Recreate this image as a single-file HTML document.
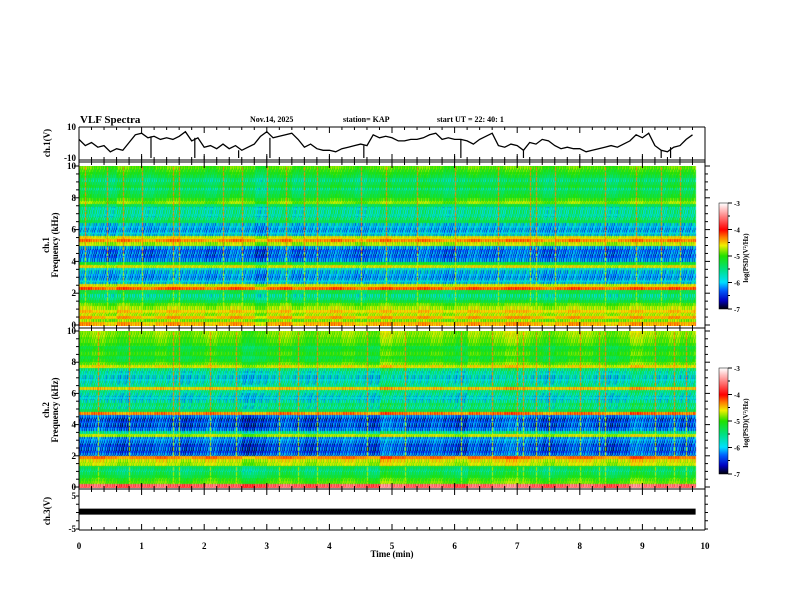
<!DOCTYPE html>
<html><head><meta charset="utf-8"><style>
body{margin:0;background:#fff;}
#wrap{position:relative;width:792px;height:612px;overflow:hidden;background:#fff;}
canvas{position:absolute;}
svg{position:absolute;left:0;top:0;}
text{font-family:"Liberation Serif",serif;font-weight:bold;fill:#000;}
</style></head><body>
<div id="wrap">
<canvas id="spec1" width="626" height="160" style="left:79px;top:166px"></canvas>
<canvas id="spec2" width="626" height="157" style="left:79px;top:331px"></canvas>
<canvas id="cb1" width="9" height="106" style="left:719px;top:203px"></canvas>
<canvas id="cb2" width="9" height="106" style="left:719px;top:368px"></canvas>
<svg id="ov" width="792" height="612"></svg>
</div>
<script>
// ---- data ----
const ch1Rows = [-4.4,-4.8,-4.4,-4.7,-4.5,-4.7,-4.9,-5.2,-5.4,-5.5,-5.3,-4.2,-4.6,-5.8,-6.0,-6.1,-5.9,-5.8,-4.6,-5.2,-6.1,-6.3,-6.2,-6.3,-6.0,-4.7,-4.3,-4.6,-5.8,-6.0,-6.0,-5.8,-5.3,-5.4,-5.6,-5.5,-5.6,-5.3,-4.8,-5.0,-5.2,-5.3,-5.4,-5.2,-5.3,-5.4,-5.2,-5.1,-5.0,-4.9];
const ch2Rows = [-3.6,-4.9,-5.0,-5.2,-5.3,-5.4,-5.3,-4.7,-4.6,-4.3,-6.2,-6.4,-6.3,-6.4,-6.2,-6.1,-4.7,-5.5,-6.2,-6.4,-6.3,-6.4,-6.2,-4.3,-5.3,-5.5,-5.4,-5.6,-5.8,-5.6,-5.5,-4.5,-5.5,-5.6,-5.8,-5.7,-5.6,-5.4,-4.6,-4.9,-5.1,-5.2,-5.0,-5.1,-5.2,-5.0,-4.9,-4.9,-4.8,-4.8];
const ch1ColMod = [0.1,0,-0.1,0.1,0,-0.1,0,0.1,0,0,-0.1,0,0.1,0,-0.2,0,0.1,-0.1,0,0,0.1,0,-0.1,0,0.1,0,0,0.1,0,-0.1,0,0.1,0,0,0.1,0.1,0,-0.1,0,0.1,0,0,-0.1,0,0.1,0,0,0.1,0,0.1];
const ch2ColMod = [0,0.1,0,-0.1,0,0,0.1,0,-0.1,0,0.1,0,0,-0.2,-0.1,0,0.1,0,-0.1,0,0,0.1,0,-0.1,0.2,0.1,0,0,0.1,0,-0.1,0.1,0,0.1,0.2,0.1,0,-0.1,0,0.1,0.1,0,-0.1,0,0.2,0.1,0,0.1,0,0.1];
const stripePattern = [0.35,-0.45,0.1,-0.55,0.25,0.0,-0.35];
const ch1Spikes = [0.1,0.45,0.7,1.0,1.5,1.6,2.3,2.6,3.0,3.3,3.6,3.8,4.5,4.9,5.4,6.0,6.7,7.2,7.3,7.6,8.4,8.9,9.3,9.6];
const ch2Spikes = [0.3,0.8,1.5,1.6,2.1,2.5,3.2,3.5,3.8,4.6,5.2,6.1,6.6,7.0,7.1,7.3,7.5,8.0,8.3,8.4,9.2,9.5,9.7];
const ch1Wave = [2,-2,0,-3,-2,-6,-4,-5,0,5,6,3,4,2,3,2,4,7,1,3,-3,-2,-4,-1,-4,-2,-5,-3,-1,4,7,3,4,5,6,2,-3,-1,-4,-5,-5,-6,-4,-3,-2,-1,-2,5,3,4,3,1,1,2,2,3,5,6,2,3,2,2,1,-1,2,4,6,-2,-3,-1,-2,-5,0,-1,2,1,-2,-4,-3,-4,-4,-6,-5,-4,-3,-2,-3,-1,1,5,3,6,-2,-5,-6,-3,-2,2,5];
const ch1Drops = [1.15,1.85,2.55,3.05,4.55,6.1,7.1,9.3,9.45];
const ch3Value = [-0.5];
const xTickLabels = ["0","1","2","3","4","5","6","7","8","9","10"];
const cbTickLabels = ["-3","-4","-5","-6","-7"];
const tEnd = 9.85;

// ---- axes ----
const X0=79, X1=705;
const xS = t => X0 + t/10*(X1-X0);
const stops=[[-7,[0,0,16]],[-6.7,[0,0,192]],[-6.3,[0,96,255]],[-6.0,[0,224,255]],[-5.5,[0,224,128]],[-5.0,[32,224,0]],[-4.6,[240,240,0]],[-4.3,[255,128,0]],[-4.0,[255,0,0]],[-3.5,[255,128,128]],[-3.0,[255,255,255]]];
function cmap(v){
  if(v<=stops[0][0]) return stops[0][1];
  for(let i=1;i<stops.length;i++){ if(v<=stops[i][0]){const a=stops[i-1],b=stops[i];const f=(v-a[0])/(b[0]-a[0]);return a[1].map((c,k)=>Math.round(c+(b[1][k]-c)*f));}}
  return stops[stops.length-1][1];
}
function drawSpec(id,rows,colMod,spikes){
  const c=document.getElementById(id),ctx=c.getContext('2d');
  const W=c.width,H=c.height,img=ctx.createImageData(W,H);
  const xEnd=xS(tEnd)-X0;
  const spikeCols=spikes.map(t=>Math.round(xS(t)-X0));
  for(let x=0;x<W;x++){
    for(let y=0;y<H;y++){
      const p=(y*W+x)*4;
      if(x>=xEnd){img.data[p]=255;img.data[p+1]=255;img.data[p+2]=255;img.data[p+3]=255;continue;}
      const f=(H-1-y)/H*10;
      const fi=Math.min(rows.length-1,Math.floor(f/10*rows.length));
      const t=x/(X1-X0)*10;
      const ti=Math.min(colMod.length-1,Math.floor(t/10*colMod.length));
      let v=rows[fi]+colMod[ti];
      const sens = rows[fi]< -5.3 ? 1 : 0.4;
      v+=stripePattern[(x+(y>>2))%stripePattern.length]*sens*(((y>>1)%3===0)?0.5:1);
      if(spikeCols.includes(x) && (y%5)!==0) v=Math.max(v,f>4.5?-4.3:-4.7);
      const col=cmap(v);
      img.data[p]=col[0];img.data[p+1]=col[1];img.data[p+2]=col[2];img.data[p+3]=255;
    }
  }
  ctx.putImageData(img,0,0);
}
drawSpec('spec1',ch1Rows,ch1ColMod,ch1Spikes);
drawSpec('spec2',ch2Rows,ch2ColMod,ch2Spikes);
['cb1','cb2'].forEach(id=>{const c=document.getElementById(id),ctx=c.getContext('2d');
  for(let y=0;y<c.height;y++){const v=-3-4*y/(c.height-1);const col=cmap(v);ctx.fillStyle=`rgb(${col})`;ctx.fillRect(0,y,c.width,1);}});

// ---- svg overlay ----
const NS='http://www.w3.org/2000/svg', ov=document.getElementById('ov');
function el(tag,attrs,txt){const e=document.createElementNS(NS,tag);for(const k in attrs)e.setAttribute(k,attrs[k]);if(txt!==undefined)e.textContent=txt;ov.appendChild(e);return e;}
function line(x1,y1,x2,y2,w){return el('line',{x1,y1,x2,y2,stroke:'#000','stroke-width':w||1});}

line(X0,127,X1,127);
[160,162,328,489,530].forEach(y=>line(X0,y,X1,y));
line(X0,127,X0,530); line(X1,127,X1,530);
for(let i=0;i<=50;i++){const x=xS(i*0.2);const L=(i%5===0)?6:3;
  [162,328,489].forEach(y=>{line(x,y,x,y+L);line(x,y,x,y-L);});
  line(x,530,x,530-L); line(x,160,x,160-L); line(x,127,x,127+L);}
xTickLabels.forEach((s,i)=>{const t=el('text',{x:xS(i),y:549,'font-size':9,'text-anchor':'middle'},s);
  
  });
const xt=el('text',{x:392,y:557,'font-size':9,'text-anchor':'middle'},'Time  (min)');


[['VLF Spectra',80,123,11,'title'],['Nov.14, 2025',250,122,8,'date-label'],['station= KAP',343,122,8,'station-label'],['start  UT =   22: 40: 1',437,122,8,'start-time-label']].forEach(a=>{
  const t=el('text',{x:a[1],y:a[2],'font-size':a[3]},a[0]);});

function ylab(x,y,s){el('text',{x,y:y+3,'font-size':9,'text-anchor':'end'},s);}
ylab(76,127,'10');ylab(76,158,'-10');
const sp=[[166,325],[331,487]];
sp.forEach(([top,bot])=>{
  for(let k=0;k<=20;k++){const y=bot-(bot-top)*k/20;const L=(k%4===0)?5:3;line(X0-L,y,X0,y);line(X1,y,X1+L,y);}
  [0,2,4,6,8,10].forEach(v=>ylab(76,bot-(bot-top)*v/10,String(v)));
});
for(let k=0;k<=4;k++){const y=496+33*k/4;line(X0-3,y,X0,y);line(X1,y,X1+3,y);}
ylab(76,496,'5');ylab(76,529,'-5');
function vlab(x,y,s,name,fs){const t=el('text',{x,y,'font-size':fs||9,'text-anchor':'middle',transform:`rotate(-90 ${x} ${y})`},s);}
vlab(50,143,'ch.1(V)','ch1-y-title');
vlab(49,245,'ch.1','ch1-spec-y-title');vlab(58,245,'Frequency  (kHz)','ch1-freq-title');
vlab(49,410,'ch.2','ch2-spec-y-title');vlab(58,410,'Frequency  (kHz)','ch2-freq-title');
vlab(50,511,'ch.3(V)','ch3-y-title');

[203,368].forEach((top,j)=>{
  el('rect',{x:719,y:top,width:9,height:106,fill:'none',stroke:'#000','stroke-width':0.5});
  cbTickLabels.forEach((s,i)=>{const y=top+106*i/4;line(728,y,732,y);el('text',{x:734,y:y+3,'font-size':7},s);
    if(i<4){line(728,y+13,730,y+13);}});
  vlab(748,top+55,'log(PSD)(V²/Hz)','colorbar-'+(j+1)+'-title',7);
});

const wy=v=>142.5-v/10*15.5;
let d='';ch1Wave.forEach((v,i)=>{d+=(i?'L':'M')+xS(i*0.1).toFixed(1)+' '+wy(v).toFixed(1);});
const wp=el('path',{d,fill:'none',stroke:'#000','stroke-width':1.3});

ch1Drops.forEach(t=>{const i=Math.round(t*10);const l=line(xS(t),wy(ch1Wave[Math.min(i,ch1Wave.length-1)]),xS(t),wy(-10),1.2);
  });

const y3=v=>512.5-v/5*16.5;
const c3=el('line',{x1:xS(0),y1:y3(ch3Value[0])-2.5,x2:xS(tEnd),y2:y3(ch3Value[0])-2.5,stroke:'#000','stroke-width':6});

</script>
</body></html>
